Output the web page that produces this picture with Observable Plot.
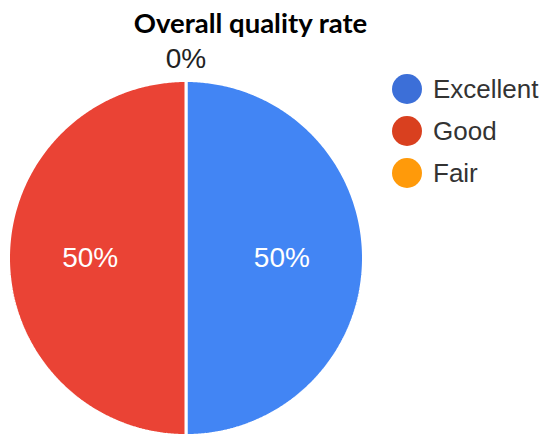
<!DOCTYPE html>
<html><head><meta charset="utf-8">
<script src="https://cdn.jsdelivr.net/npm/d3@7"></script>
<script src="https://cdn.jsdelivr.net/npm/@observablehq/plot@0.6"></script>
<style>
body{margin:0;background:#fff}
#wrap{position:relative;width:545px;height:435px;overflow:hidden}
#legend{position:absolute;left:392px;top:68px;font-family:Arial,"Liberation Sans",sans-serif;font-size:26px;color:#333}
#legend .row{display:flex;align-items:center;height:42px}
#legend .sw{width:30px;height:30px;border-radius:50%;margin-right:11px}
</style>
</head><body><div id="wrap"></div>
<script>
const categories = ["Excellent", "Good", "Fair"];
const values = [50, 50, 0];
const labels = ["50%", "50%", "0%"];
const sliceColors = ["#4285F4", "#EA4335", "#FF9900"];
const legendColors = ["#3C6FD8", "#D9401F", "#FF9A0A"];
const title = "Overall quality rate";

const arcs = d3.pie().sort(null).value(d => d.value)(
  categories.map((c, i) => ({cat: c, value: values[i], label: labels[i]}))
);
const poly = [];
arcs.forEach(a => {
  const span = a.endAngle - a.startAngle;
  if (span <= 0) return;
  const n = Math.max(2, Math.ceil(span / (Math.PI / 360)));
  poly.push({cat: a.data.cat, x: 0, y: 0});
  for (let k = 0; k <= n; k++) {
    const t = a.startAngle + span * k / n;
    poly.push({cat: a.data.cat, x: Math.sin(t), y: Math.cos(t)});
  }
  poly.push({cat: a.data.cat, x: 0, y: 0});
});
const lab = arcs.map(a => {
  const m = (a.startAngle + a.endAngle) / 2;
  const r = a.value > 0 ? 0.54 : 1.12;
  return {cat: a.data.cat, label: a.data.label, x: r * Math.sin(m), y: r * Math.cos(m), inside: a.value > 0};
});

const chart = Plot.plot({
  width: 545, height: 435,
  margin: 0,
  x: {domain: [-1, 1], range: [8, 363], axis: null},
  y: {domain: [-1, 1], range: [435, 80], axis: null},
  color: {domain: categories, range: sliceColors},
  style: {background: "#fff", overflow: "visible"},
  marks: [
    Plot.line(poly, {x: "x", y: "y", z: "cat", fill: "cat", stroke: "white", strokeWidth: 3, strokeLinejoin: "miter"}),
    Plot.text(lab.filter(d => d.inside), {x: "x", y: "y", text: "label", fill: "white", fontSize: 28, fontFamily: "Arial, 'Liberation Sans', sans-serif"}),
    Plot.text(lab.filter(d => !d.inside), {x: "x", y: "y", text: "label", fill: "#222", fontSize: 28, fontFamily: "Arial, 'Liberation Sans', sans-serif"}),
    Plot.text([title], {frameAnchor: "top-left", textAnchor: "middle", lineAnchor: "middle", dx: 250, dy: 24, text: d => d, fontSize: 27.5, fontWeight: "bold", fill: "#000", fontFamily: "Lato, 'Open Sans', sans-serif"})
  ]
});
const wrap = document.getElementById("wrap");
wrap.appendChild(chart);
const legend = document.createElement("div");
legend.id = "legend";
categories.forEach((c, i) => {
  const row = document.createElement("div");
  row.className = "row";
  const sw = document.createElement("span");
  sw.className = "sw";
  sw.style.background = legendColors[i];
  const t = document.createElement("span");
  t.textContent = c;
  row.appendChild(sw); row.appendChild(t);
  legend.appendChild(row);
});
wrap.appendChild(legend);
</script>
</body></html>
